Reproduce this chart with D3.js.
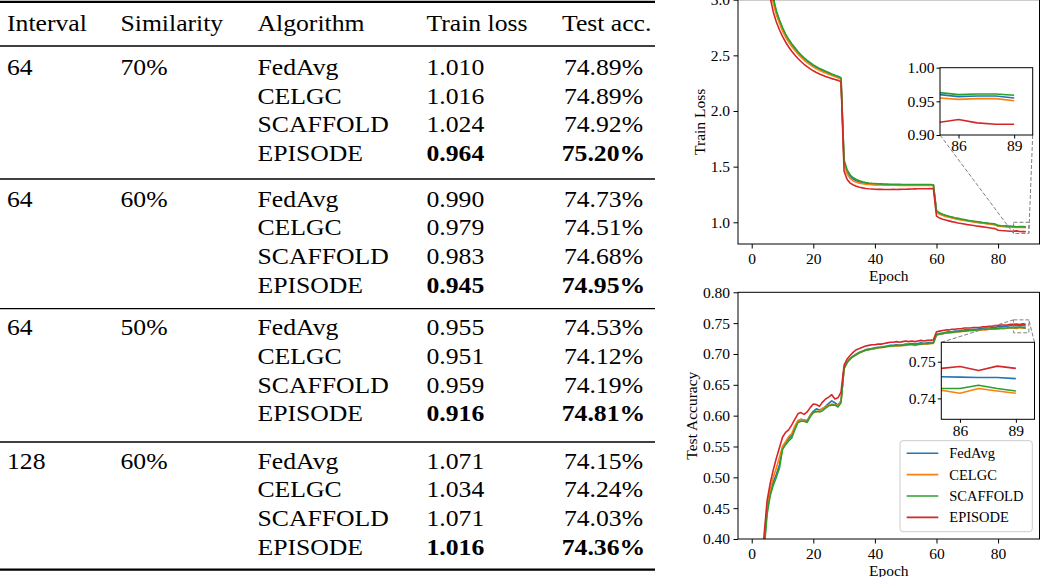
<!DOCTYPE html>
<html><head><meta charset="utf-8">
<script src="https://cdn.jsdelivr.net/npm/d3@7"></script>
<style>
html,body{margin:0;padding:0;background:#fff;}
svg{display:block;}
</style></head><body>
<svg id="fig" width="1040" height="577"></svg>
<script>
// ---------------- DATA ----------------
const headers = ["Interval","Similarity","Algorithm","Train loss","Test acc."];
const intervals = ["64","64","64","128"];
const similarities = ["70%","60%","50%","60%"];
const algorithms = ["FedAvg","CELGC","SCAFFOLD","EPISODE"];
const tableTrainLoss = [[1.010,1.016,1.024,0.964],[0.990,0.979,0.983,0.945],[0.955,0.951,0.959,0.916],[1.071,1.034,1.071,1.016]];
const tableTestAcc = [[74.89,74.89,74.92,75.20],[74.73,74.51,74.68,74.95],[74.53,74.12,74.19,74.81],[74.15,74.24,74.03,74.36]];

const epochs = d3.range(90);
const trainFedAvg = [5.25,4.70,4.24,3.85,3.53,3.29,3.11,3.00,2.89,2.81,
 2.74,2.68,2.635,2.595,2.56,2.526,2.497,2.47,2.447,2.427,
 2.408,2.391,2.376,2.363,2.35,2.338,2.327,2.316,2.306,2.292,
 1.54,1.455,1.41,1.387,1.373,1.363,1.356,1.35,1.346,1.343,
 1.341,1.34,1.339,1.338,1.338,1.337,1.337,1.337,1.336,1.336,
 1.336,1.336,1.335,1.336,1.335,1.335,1.335,1.336,1.335,1.334,
 1.098,1.079,1.067,1.058,1.051,1.044,1.037,1.031,1.026,1.021,
 1.016,1.011,1.007,1.003,0.999,0.995,0.992,0.988,0.985,0.981,
 0.969,0.966,0.964,0.963,0.962,0.960,0.957,0.958,0.958,0.955];
const trainCELGC = [5.20,4.65,4.20,3.81,3.50,3.26,3.08,2.97,2.865,2.79,
 2.72,2.665,2.62,2.58,2.545,2.512,2.484,2.458,2.435,2.415,
 2.397,2.38,2.366,2.353,2.341,2.33,2.319,2.309,2.299,2.285,
 1.52,1.435,1.393,1.372,1.36,1.352,1.346,1.342,1.339,1.337,
 1.336,1.335,1.335,1.334,1.334,1.333,1.333,1.333,1.332,1.332,
 1.332,1.332,1.331,1.332,1.331,1.331,1.331,1.332,1.331,1.330,
 1.090,1.072,1.061,1.052,1.045,1.038,1.032,1.026,1.021,1.016,
 1.011,1.007,1.003,0.999,0.995,0.991,0.988,0.984,0.981,0.977,
 0.965,0.962,0.960,0.958,0.957,0.955,0.953,0.954,0.954,0.951];
const trainSCAFFOLD = [5.30,4.75,4.28,3.88,3.56,3.31,3.13,3.02,2.90,2.82,
 2.75,2.69,2.645,2.605,2.57,2.535,2.505,2.478,2.455,2.435,
 2.415,2.398,2.383,2.37,2.357,2.345,2.333,2.322,2.312,2.298,
 1.56,1.47,1.425,1.40,1.385,1.373,1.365,1.358,1.353,1.35,
 1.348,1.346,1.345,1.344,1.343,1.342,1.342,1.341,1.341,1.340,
 1.340,1.340,1.339,1.340,1.339,1.339,1.339,1.340,1.339,1.338,
 1.105,1.085,1.072,1.063,1.055,1.048,1.041,1.035,1.029,1.024,
 1.019,1.014,1.010,1.006,1.002,0.998,0.995,0.991,0.988,0.984,
 0.972,0.969,0.967,0.966,0.965,0.963,0.960,0.961,0.961,0.959];
const trainEPISODE = [5.05,4.52,4.08,3.70,3.40,3.17,3.02,2.89,2.80,2.73,
 2.67,2.62,2.575,2.537,2.503,2.472,2.445,2.42,2.398,2.378,
 2.361,2.346,2.333,2.321,2.31,2.30,2.291,2.283,2.275,2.262,
 1.46,1.385,1.352,1.335,1.323,1.315,1.309,1.304,1.301,1.299,
 1.297,1.296,1.296,1.295,1.295,1.295,1.296,1.295,1.296,1.297,
 1.297,1.298,1.299,1.300,1.301,1.302,1.301,1.302,1.303,1.302,
 1.055,1.038,1.028,1.020,1.013,1.006,1.000,0.994,0.989,0.984,
 0.979,0.975,0.971,0.967,0.963,0.959,0.955,0.951,0.947,0.943,
 0.929,0.926,0.924,0.922,0.920,0.919,0.923,0.918,0.916,0.916];

const accFedAvg = [0.10,0.17,0.26,0.33,0.385,0.448,0.475,0.492,0.505,0.52,
 0.548,0.556,0.563,0.568,0.58,0.591,0.594,0.593,0.592,0.601,
 0.607,0.611,0.609,0.611,0.615,0.620,0.624,0.621,0.617,0.624,
 0.677,0.687,0.693,0.697,0.700,0.703,0.705,0.707,0.708,0.709,
 0.710,0.711,0.711,0.712,0.713,0.714,0.714,0.715,0.714,0.715,
 0.716,0.716,0.717,0.716,0.717,0.718,0.717,0.718,0.718,0.719,
 0.732,0.733,0.734,0.735,0.736,0.736,0.737,0.737,0.738,0.739,
 0.739,0.739,0.740,0.740,0.741,0.741,0.742,0.742,0.743,0.743,
 0.744,0.744,0.745,0.745,0.7457,0.7459,0.7458,0.7457,0.7457,0.7454];
const accCELGC = [0.10,0.18,0.27,0.34,0.395,0.455,0.48,0.50,0.515,0.532,
 0.55,0.558,0.566,0.571,0.583,0.592,0.594,0.592,0.59,0.60,
 0.605,0.606,0.608,0.612,0.614,0.617,0.619,0.618,0.616,0.623,
 0.676,0.686,0.692,0.696,0.699,0.702,0.704,0.706,0.707,0.708,
 0.709,0.710,0.710,0.711,0.712,0.712,0.713,0.713,0.713,0.714,
 0.714,0.715,0.715,0.714,0.715,0.716,0.716,0.716,0.717,0.717,
 0.731,0.732,0.733,0.734,0.734,0.735,0.735,0.736,0.736,0.737,
 0.737,0.738,0.738,0.738,0.739,0.739,0.739,0.740,0.740,0.740,
 0.741,0.741,0.741,0.742,0.742,0.7422,0.7414,0.7427,0.7420,0.7414];
const accSCAFFOLD = [0.10,0.17,0.25,0.32,0.38,0.44,0.47,0.487,0.50,0.515,
 0.545,0.553,0.559,0.564,0.577,0.589,0.591,0.591,0.589,0.598,
 0.605,0.607,0.606,0.608,0.612,0.616,0.617,0.617,0.614,0.621,
 0.677,0.686,0.692,0.696,0.699,0.702,0.704,0.706,0.707,0.708,
 0.709,0.710,0.711,0.711,0.712,0.713,0.713,0.714,0.714,0.714,
 0.715,0.715,0.716,0.715,0.716,0.716,0.717,0.717,0.717,0.718,
 0.731,0.732,0.733,0.734,0.735,0.735,0.736,0.736,0.737,0.737,
 0.738,0.738,0.738,0.739,0.739,0.740,0.740,0.740,0.741,0.741,
 0.741,0.742,0.742,0.742,0.7425,0.7427,0.7427,0.7436,0.7427,0.7420];
const accEPISODE = [0.10,0.19,0.28,0.35,0.405,0.462,0.49,0.512,0.531,0.548,
 0.565,0.573,0.577,0.585,0.594,0.603,0.605,0.602,0.606,0.613,
 0.619,0.618,0.615,0.622,0.627,0.630,0.634,0.627,0.629,0.638,
 0.682,0.692,0.698,0.703,0.707,0.709,0.711,0.713,0.714,0.715,
 0.715,0.716,0.716,0.717,0.718,0.719,0.719,0.720,0.719,0.720,
 0.721,0.720,0.721,0.720,0.721,0.722,0.721,0.722,0.722,0.723,
 0.736,0.737,0.738,0.739,0.739,0.740,0.740,0.741,0.741,0.742,
 0.742,0.742,0.743,0.743,0.743,0.744,0.744,0.745,0.745,0.746,
 0.746,0.747,0.747,0.747,0.748,0.7482,0.7487,0.7476,0.7488,0.7482];

const seriesNames = ["FedAvg","CELGC","SCAFFOLD","EPISODE"];
const seriesColors = ["#1f77b4","#ff7f0e","#2ca02c","#d62728"];
const trainSeries = [trainFedAvg, trainCELGC, trainSCAFFOLD, trainEPISODE];
const accSeries = [accFedAvg, accCELGC, accSCAFFOLD, accEPISODE];

const trainTicks = [1.0,1.5,2.0,2.5,3.0];
const accTicks = [0.40,0.45,0.50,0.55,0.60,0.65,0.70,0.75,0.80];
const epochTicks = [0,20,40,60,80];
const insetXTicks = [86,89];
const trainInsetYTicks = [0.90,0.95,1.00];
const accInsetYTicks = [0.74,0.75];

// ---------------- LAYOUT ----------------
const svg = d3.select("#fig");
const SERIF = '"Liberation Serif","Times New Roman",Times,serif';
const defs = svg.append("defs");

// ---- table ----
const tbl = svg.append("g");
const TFS = 24, SX = 1.07;
const colX = [7, 120.5, 257.5, 426.5, 562];
const accCenterX = 603.5;
function ttext(x, y, s, bold, anchor) {
  tbl.append("text")
    .attr("transform", `translate(${x},${y}) scale(${SX},1)`)
    .attr("text-anchor", anchor || "start")
    .attr("font-family", SERIF).attr("font-size", TFS)
    .attr("font-weight", bold ? "bold" : "normal")
    .attr("fill", "#000").text(s);
}
function rule(y, w) {
  tbl.append("line").attr("x1", 0).attr("x2", 655).attr("y1", y).attr("y2", y)
    .attr("stroke", "#000").attr("stroke-width", w);
}
rule(1.8, 2.2);
headers.forEach((h, i) => ttext(colX[i], 30.7, h, false));
rule(46, 1.3);
const groupStart = [75, 206.7, 335.3, 468.7];
const rowH = 28.6;
const groupRules = [179, 308.7, 442];
intervals.forEach((iv, g) => {
  const y0 = groupStart[g];
  ttext(colX[0], y0, iv, false);
  ttext(colX[1], y0, similarities[g], false);
  const minL = d3.min(tableTrainLoss[g]);
  const maxA = d3.max(tableTestAcc[g]);
  algorithms.forEach((a, r) => {
    const y = y0 + r * rowH;
    ttext(colX[2], y, a, false);
    ttext(colX[3], y, tableTrainLoss[g][r].toFixed(3), tableTrainLoss[g][r] === minL);
    ttext(accCenterX, y, tableTestAcc[g][r].toFixed(2) + "%", tableTestAcc[g][r] === maxA, "middle");
  });
  if (g < 3) rule(groupRules[g], 1.3);
});
rule(569.7, 2.2);

// ---- charts ----
const FS = 15.5;
const axL = 738, axR = 1039.5;
const x = d3.scaleLinear().domain([-4.45, 93.45]).range([axL, axR]);

function styleAxis(g, fs) {
  g.attr("font-family", SERIF).attr("font-size", fs);
  g.select(".domain").remove();
  g.selectAll(".tick line").attr("stroke", "#000").attr("stroke-width", 1);
  g.selectAll(".tick text").attr("fill", "#000");
}

function drawPanel(opts) {
  const {top, bottom, yDomain, yTicks, yFmt, series, ylabel, ylabelX, xlabelY, clipId} = opts;
  const y = d3.scaleLinear().domain(yDomain).range([bottom, top]);
  const g = svg.append("g");
  defs.append("clipPath").attr("id", clipId).append("rect")
    .attr("x", axL).attr("y", top).attr("width", axR - axL).attr("height", bottom - top);
  const lines = g.append("g").attr("clip-path", `url(#${clipId})`);
  const lineGen = d3.line().x((d, i) => x(epochs[i])).y(d => y(d));
  series.forEach((s, k) => {
    lines.append("path").attr("d", lineGen(s)).attr("fill", "none")
      .attr("stroke", seriesColors[k]).attr("stroke-width", 1.6).attr("stroke-linejoin", "round");
  });
  // frame
  g.append("rect").attr("x", axL).attr("y", top).attr("width", axR - axL).attr("height", bottom - top)
    .attr("fill", "none").attr("stroke", "#000").attr("stroke-width", 1);
  const xa = g.append("g").attr("transform", `translate(0,${bottom})`)
    .call(d3.axisBottom(x).tickValues(epochTicks).tickSize(4.5).tickPadding(4.5).tickFormat(d3.format("d")));
  styleAxis(xa, FS);
  const ya = g.append("g").attr("transform", `translate(${axL},0)`)
    .call(d3.axisLeft(y).tickValues(yTicks).tickSize(4.5).tickPadding(3.5).tickFormat(d3.format(yFmt)));
  styleAxis(ya, FS);
  g.append("text").attr("x", (axL + axR) / 2).attr("y", xlabelY).attr("text-anchor", "middle")
    .attr("font-family", SERIF).attr("font-size", FS).attr("fill", "#000").text("Epoch");
  g.append("text").attr("transform", `translate(${ylabelX},${(top + bottom) / 2}) rotate(-90)`)
    .attr("text-anchor", "middle").attr("font-family", SERIF).attr("font-size", FS)
    .attr("fill", "#000").text(ylabel);
  return {g, y};
}

function drawInset(panel, o) {
  const {left, right, top, bottom, yDomain, yTicks, yFmt, series, clipId, corners} = o;
  const xi = d3.scaleLinear().domain([85, 90]).range([left, right]);
  const yi = d3.scaleLinear().domain(yDomain).range([bottom, top]);
  const g = panel.g;
  // zoom rectangle on parent
  const rx0 = x(85), rx1 = x(90), ry0 = panel.y(yDomain[1]), ry1 = panel.y(yDomain[0]);
  const dash = "4,2";
  g.append("rect").attr("x", rx0).attr("y", ry0).attr("width", rx1 - rx0).attr("height", ry1 - ry0)
    .attr("fill", "none").attr("stroke", "#808080").attr("stroke-width", 1).attr("stroke-dasharray", dash);
  const rc = {ll: [rx0, ry1], lr: [rx1, ry1], ul: [rx0, ry0], ur: [rx1, ry0]};
  const ic = {ll: [left, bottom], lr: [right, bottom], ul: [left, top], ur: [right, top]};
  corners.forEach(c => {
    g.append("line").attr("x1", ic[c][0]).attr("y1", ic[c][1]).attr("x2", rc[c][0]).attr("y2", rc[c][1])
      .attr("stroke", "#808080").attr("stroke-width", 1).attr("stroke-dasharray", dash);
  });
  const ig = svg.append("g");
  ig.append("rect").attr("x", left).attr("y", top).attr("width", right - left).attr("height", bottom - top)
    .attr("fill", "#fff");
  defs.append("clipPath").attr("id", clipId).append("rect")
    .attr("x", left).attr("y", top).attr("width", right - left).attr("height", bottom - top);
  const lg = ig.append("g").attr("clip-path", `url(#${clipId})`);
  const lineGen = d3.line().x((d, i) => xi(epochs[i])).y(d => yi(d));
  series.forEach((s, k) => {
    lg.append("path").attr("d", lineGen(s)).attr("fill", "none")
      .attr("stroke", seriesColors[k]).attr("stroke-width", 1.6).attr("stroke-linejoin", "round");
  });
  ig.append("rect").attr("x", left).attr("y", top).attr("width", right - left).attr("height", bottom - top)
    .attr("fill", "none").attr("stroke", "#000").attr("stroke-width", 1);
  const xa = ig.append("g").attr("transform", `translate(0,${bottom})`)
    .call(d3.axisBottom(xi).tickValues(insetXTicks).tickSize(3.5).tickPadding(1.8).tickFormat(d3.format("d")));
  styleAxis(xa, FS);
  const ya = ig.append("g").attr("transform", `translate(${left},0)`)
    .call(d3.axisLeft(yi).tickValues(yTicks).tickSize(3.5).tickPadding(2).tickFormat(d3.format(yFmt)));
  styleAxis(ya, FS);
}

const p1 = drawPanel({top: -0.3, bottom: 244, yDomain: [0.805, 3.0], yTicks: trainTicks, yFmt: ".1f",
  series: trainSeries, ylabel: "Train Loss", ylabelX: 704.5, xlabelY: 281, clipId: "c1"});
drawInset(p1, {left: 940, right: 1032.7, top: 67.7, bottom: 135, yDomain: [0.90, 1.00],
  yTicks: trainInsetYTicks, yFmt: ".2f", series: trainSeries, clipId: "c1i", corners: ["ll", "lr"]});

const p2 = drawPanel({top: 292.3, bottom: 539, yDomain: [0.40, 0.80], yTicks: accTicks, yFmt: ".2f",
  series: accSeries, ylabel: "Test Accuracy", ylabelX: 697, xlabelY: 575.5, clipId: "c2"});
drawInset(p2, {left: 941.3, right: 1034.5, top: 342.3, bottom: 419.3, yDomain: [0.7343, 0.7553],
  yTicks: accInsetYTicks, yFmt: ".2f", series: accSeries, clipId: "c2i", corners: ["ul", "ur"]});

// legend
const leg = svg.append("g");
leg.append("rect").attr("x", 900).attr("y", 440.7).attr("width", 132.3).attr("height", 91)
  .attr("rx", 3).attr("fill", "#fff").attr("fill-opacity", 0.8).attr("stroke", "#cccccc").attr("stroke-width", 1);
seriesNames.forEach((n, k) => {
  const cy = 453.3 + k * 21.35;
  leg.append("line").attr("x1", 906.7).attr("x2", 938.3).attr("y1", cy).attr("y2", cy)
    .attr("stroke", seriesColors[k]).attr("stroke-width", 1.6);
  leg.append("text").attr("x", 949.3).attr("y", cy + 5).attr("font-family", SERIF)
    .attr("font-size", 14.5).attr("fill", "#000").text(n);
});
</script>
</body></html>
